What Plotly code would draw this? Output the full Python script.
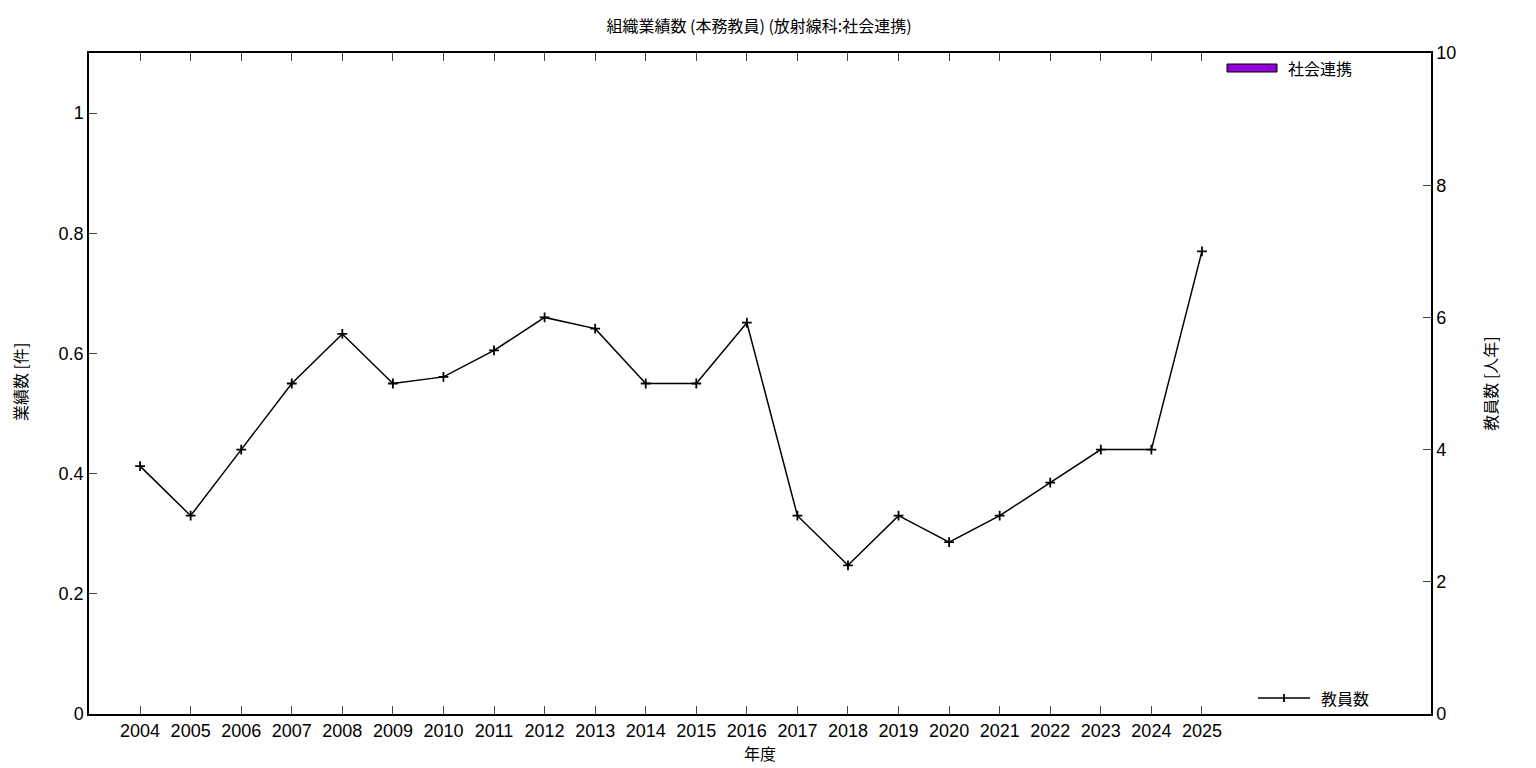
import plotly.graph_objects as go

years = list(range(2004, 2026))
tick_labels = [str(y) for y in years]
renkei = [0] * len(years)  # 社会連携 (件)
staff = [3.75, 3.0, 4.0, 5.0, 5.75, 5.0, 5.1, 5.5, 6.0, 5.83, 5.0, 5.0,
         5.92, 3.0, 2.25, 3.0, 2.6, 3.0, 3.5, 4.0, 4.0, 7.0]  # 教員数 (人年)

FONT = "Liberation Sans, Arial, Noto Sans CJK JP, sans-serif"
JP = "Noto Sans CJK JP, Liberation Sans, sans-serif"

fig = go.Figure()
fig.add_trace(go.Bar(x=years, y=renkei, name="社会連携", marker_color="#9400d3",
                     marker_line=dict(width=0), showlegend=False,
                     yaxis="y"))
fig.add_trace(go.Scatter(x=years, y=staff, name="教員数", mode="lines+markers",
                         line=dict(color="black", width=1.5),
                         marker=dict(symbol="cross-thin", size=7,
                                     line=dict(color="black", width=1.8)),
                         showlegend=False, yaxis="y2"))

# legends drawn manually (gnuplot style)
fig.add_shape(type="rect", xref="paper", yref="paper",
              x0=(1226 - 88) / 1342, x1=(1276 - 88) / 1342,
              y0=(713 - 71) / 661, y1=(713 - 63) / 661,
              fillcolor="#9400d3", line=dict(color="black", width=1))
fig.add_annotation(xref="paper", yref="paper", x=(1285 - 88) / 1342, y=(713 - 67) / 661,
                   text="社会連携", showarrow=False, xanchor="left", yanchor="middle",
                   font=dict(family=JP, size=16, color="black"))
fig.add_shape(type="line", xref="paper", yref="paper",
              x0=(1257 - 88) / 1342, x1=(1309 - 88) / 1342,
              y0=(713 - 697) / 661, y1=(713 - 697) / 661,
              line=dict(color="black", width=1.5))
fig.add_shape(type="line", xref="paper", yref="paper",
              x0=(1283 - 88) / 1342, x1=(1283 - 88) / 1342,
              y0=(713 - 701) / 661, y1=(713 - 693) / 661,
              line=dict(color="black", width=1.8))
fig.add_annotation(xref="paper", yref="paper", x=(1318 - 88) / 1342, y=(713 - 697) / 661,
                   text="教員数", showarrow=False, xanchor="left", yanchor="middle",
                   font=dict(family=JP, size=16, color="black"))
# left axis title
fig.add_annotation(xref="paper", yref="paper", x=(19 - 88) / 1342, y=(713 - 381) / 661,
                   text="業績数 [件]", showarrow=False, textangle=-90,
                   xanchor="center", yanchor="middle",
                   font=dict(family=JP, size=16, color="black"))

fig.update_layout(
    width=1536, height=768,
    margin=dict(l=81, r=113, t=45, b=62),
    paper_bgcolor="white", plot_bgcolor="white",
    font=dict(family=FONT, size=18, color="black"),
    title=dict(text="組織業績数 (本務教員) (放射線科:社会連携)", x=0.489, xanchor="center",
               y=0.9766, yanchor="middle", font=dict(family=JP, size=16)),
    xaxis=dict(range=[2002.99, 2029.53], tickmode="array", tickvals=years,
               ticktext=tick_labels, ticks="inside", ticklen=8, tickwidth=1,
               showline=True, linecolor="black", linewidth=1.5, mirror="ticks",
               showgrid=False, zeroline=False, automargin=False,
               title=dict(text="年度", font=dict(family=JP, size=16), standoff=8)),
    yaxis=dict(range=[0, 1.1], tickmode="array", tickvals=[0, 0.2, 0.4, 0.6, 0.8, 1],
               ticktext=["0", "0.2", "0.4", "0.6", "0.8", "1"],
               ticks="inside", ticklen=8, tickwidth=1, showline=True,
               linecolor="black", linewidth=1.5, showgrid=False, zeroline=False,
               automargin=False),
    yaxis2=dict(range=[0, 10], overlaying="y", side="right",
                tickvals=[0, 2, 4, 6, 8, 10], ticks="inside", ticklen=8, tickwidth=1,
                showline=True, linecolor="black", linewidth=1.5, showgrid=False,
                zeroline=False, automargin=False,
                title=dict(text="教員数 [人年]", font=dict(family=JP, size=16), standoff=30)),
    bargap=0.5,
)

fig.write_html("out.html")
